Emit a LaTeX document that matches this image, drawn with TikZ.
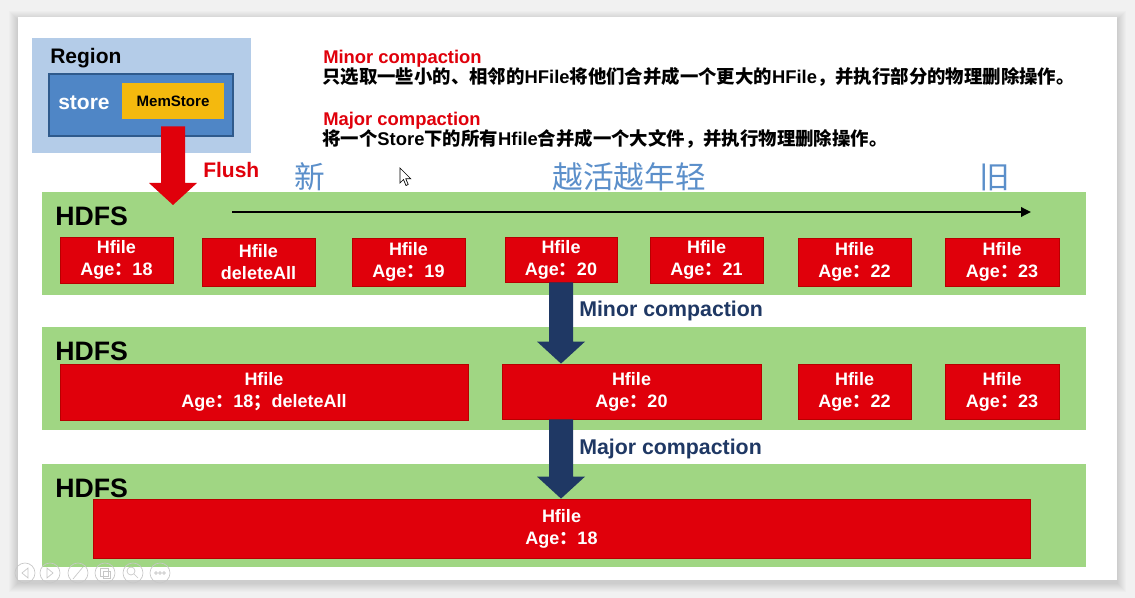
\documentclass[tikz,border=0pt]{standalone}
\usepackage{fontspec}
\setmainfont{Liberation Sans}
\newfontfamily\cjk{Noto Sans CJK SC}
\newfontfamily\latn{Liberation Sans}
\usetikzlibrary{calc,arrows.meta}
\newcommand\pxu{0.75pt}
\newcommand\fw[1]{{\cjk #1}}% full-width punctuation
\newcommand\lw[1]{{\latn #1}}% latin words inside chinese lines
\definecolor{bandgreen}{HTML}{A0D683}
\definecolor{hfred}{HTML}{E0000B}
\definecolor{hfborder}{HTML}{B80000}
\definecolor{navy}{HTML}{1F3864}
\definecolor{regionblue}{HTML}{B4CCE8}
\definecolor{storeblue}{HTML}{4F86C6}
\definecolor{storeedge}{HTML}{2F5A8C}
\definecolor{memgold}{HTML}{F4B90E}
\definecolor{timeblue}{HTML}{5B8FCA}
\definecolor{headred}{HTML}{E0000B}
\definecolor{pagegray}{HTML}{F1F1F1}
% vertical block arrow: colour, top coordinate, tip coordinate
\newcommand\blockarrow[3]{%
  \fill[#1] ($(#2)+(-12,0)$) -- ($(#2)+(12,0)$) -- ($(#3)+(12,-22)$)
    -- ($(#3)+(24,-22)$) -- (#3) -- ($(#3)+(-24,-22)$) -- ($(#3)+(-12,-22)$) -- cycle;}
\begin{document}
\begin{tikzpicture}[x=0.75pt,y=-0.75pt,
  band/.style={fill=bandgreen, draw=none, inner sep=0pt, minimum width=1044*\pxu, minimum height=103*\pxu},
  hfile/.style={draw=hfborder, line width=0.6pt, fill=hfred, text=white, align=center, inner sep=0pt,
    font=\fontsize{13.5}{16.5}\selectfont\bfseries},
  hdfs/.style={anchor=base west, inner sep=0pt, font=\fontsize{20}{24}\selectfont\bfseries},
  headline/.style={anchor=base west, inner sep=0pt, text=headred, font=\fontsize{13.8}{16}\selectfont\bfseries},
  cjkline/.style={anchor=base west, inner sep=0pt, font=\cjk\fontsize{13.8}{16}\selectfont\bfseries},
  agetext/.style={inner sep=0pt, text=timeblue, font=\cjk\fontsize{23}{26}\selectfont},
  steplabel/.style={anchor=base west, inner sep=0pt, text=navy, font=\fontsize{16}{19}\selectfont\bfseries},
  ctrl/.style={draw=black!22, line width=0.5pt}
]
\useasboundingbox (0,0) rectangle (1135,598);
% page and slide with a soft shadow
\fill[pagegray] (0,0) rectangle (1135,598);
\foreach \i in {1,...,9}
  \fill[black, opacity=0.016] ($(18,17)+(-\i,-\i+3)$) rectangle ($(1117,580)+(\i,\i+3)$);
\fill[white] (18,17) rectangle (1117,580);

% region / store / memstore
\node[fill=regionblue, inner sep=0pt, minimum width=219*\pxu, minimum height=115*\pxu] (region) at (141.5,95.5) {};
\node[anchor=base west, inner sep=0pt, font=\fontsize{15.75}{18}\selectfont\bfseries] (regionlbl) at (50,64) {Region};
\node[fill=storeblue, draw=storeedge, line width=1.1pt, inner sep=0pt, minimum width=184*\pxu, minimum height=62*\pxu] (store) at (141,105) {};
\node[anchor=base west, inner sep=0pt, text=white, font=\fontsize{15.75}{18}\selectfont\bfseries] (storelbl) at (58,110) {store};
\node[fill=memgold, inner sep=0pt, minimum width=102*\pxu, minimum height=36*\pxu, font=\fontsize{11.3}{13}\selectfont\bfseries] (mem) at (173,101) {MemStore};

% explanations
\node[headline] (minorhead) at (323,64) {Minor compaction};
\node[cjkline] (minortext) at (322,84) {只选取一些小的、相邻的\lw{HFile}将他们合并成一个更大的\lw{HFile}，并执行部分的物理删除操作。};
\node[headline] (majorhead) at (323,126) {Major compaction};
\node[cjkline] (majortext) at (322,146) {将一个\lw{Store}下的所有\lw{Hfile}合并成一个大文件，并执行物理删除操作。};

% age scale
\node[agetext] (newlbl) at (310,177) {新};
\node[agetext] (agelbl) at (629,177) {越活越年轻};
\node[agetext] (oldlbl) at (995,177) {旧};

\node[anchor=base west, inner sep=0pt, text=headred, font=\fontsize{15.75}{18}\selectfont\bfseries] (flushlbl) at (203,178) {Flush};

% HDFS bands
\node[band] (band1) at (564,244) {};
\node[band] (band2) at (564,378.5) {};
\node[band] (band3) at (564,515.5) {};
\node[hdfs] (hdfs1) at (55,226) {HDFS};
\node[hdfs] (hdfs2) at (55,361) {HDFS};
\node[hdfs] (hdfs3) at (55,497) {HDFS};

\coordinate (tlStart) at (232,212);
\coordinate (tlEnd) at (1031,212);
\draw[line width=1.7pt, -{Triangle[length=7.5pt,width=7pt]}] (tlStart) -- (tlEnd);

% row 1
\node[hfile, minimum width=113*\pxu, minimum height=46*\pxu] (h1) at (116.5,260) {Hfile\\Age\fw{：}18};
\node[hfile, minimum width=113*\pxu, minimum height=48*\pxu] (h2) at (258.5,262) {Hfile\\deleteAll};
\node[hfile, minimum width=113*\pxu, minimum height=48*\pxu] (h3) at (408.5,262) {Hfile\\Age\fw{：}19};
\node[hfile, minimum width=112*\pxu, minimum height=45*\pxu] (h4) at (561,259.5) {Hfile\\Age\fw{：}20};
\node[hfile, minimum width=113*\pxu, minimum height=46*\pxu] (h5) at (706.5,260) {Hfile\\Age\fw{：}21};
\node[hfile, minimum width=113*\pxu, minimum height=48*\pxu] (h6) at (854.5,262) {Hfile\\Age\fw{：}22};
\node[hfile, minimum width=114*\pxu, minimum height=48*\pxu] (h7) at (1002,262) {Hfile\\Age\fw{：}23};

% row 2
\node[hfile, minimum width=408*\pxu, minimum height=56*\pxu] (m1) at (264,392) {Hfile\\Age\fw{：}18\fw{；}deleteAll};
\node[hfile, minimum width=259*\pxu, minimum height=55*\pxu] (m2) at (631.5,391.5) {Hfile\\Age\fw{：}20};
\node[hfile, minimum width=113*\pxu, minimum height=55*\pxu] (m3) at (854.5,391.5) {Hfile\\Age\fw{：}22};
\node[hfile, minimum width=114*\pxu, minimum height=55*\pxu] (m4) at (1002,391.5) {Hfile\\Age\fw{：}23};

% row 3
\node[hfile, minimum width=937*\pxu, minimum height=59*\pxu] (big) at (561.5,528.5) {Hfile\\Age\fw{：}18};

% flush arrow
\coordinate (flushTop) at ($(mem.south)+(0,7)$);
\coordinate (flushTip) at (173,205);
\blockarrow{hfred}{flushTop}{flushTip}

% compaction arrows
\coordinate (minorTop) at (h4.south);
\coordinate (minorTip) at (h4.south |- m2.north);
\coordinate (majorTop) at (h4.south |- m2.south);
\coordinate (majorTip) at (h4.south |- big.north);
\blockarrow{navy}{minorTop}{minorTip}
\blockarrow{navy}{majorTop}{majorTip}
\node[steplabel] (minorlbl) at (579,317) {Minor compaction};
\node[steplabel] (majorlbl) at (579,455) {Major compaction};

% slide-show controls
\foreach \cx in {25,50,78,105,133,160}
  \draw[ctrl] (\cx,573) circle (10);
\draw[ctrl] (28,568) -- (22,573) -- (28,578) -- cycle;
\draw[ctrl] (47,568) -- (53,573) -- (47,578) -- cycle;
\draw[ctrl] (73,579) -- (83,567);
\draw[ctrl] (100,568) rectangle (108,576) (103,571) rectangle (110,578);
\draw[ctrl] (131,571) circle (4) (134,574) -- (138,578);
\foreach \dx in {-4,0,4} \draw[ctrl] (160+\dx,573) circle (1.3);

% pointer
\filldraw[fill=white, draw=black, line width=0.5pt] (400,168) -- (400,183) -- (403.5,179.5) -- (406,185.5)
  -- (408.2,184.5) -- (405.8,178.8) -- (410.8,178.8) -- cycle;
\end{tikzpicture}
\end{document}
